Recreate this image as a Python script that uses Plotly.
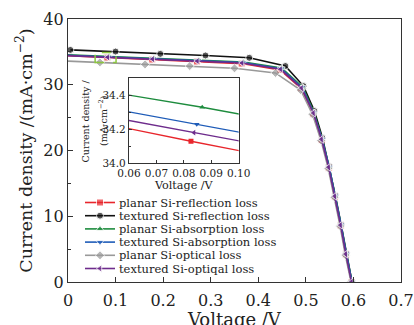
import plotly.graph_objects as go

# ---- data ----
names = ["planar Si-reflection loss", "textured Si-reflection loss",
         "planar Si-absorption loss", "textured Si-absorption loss",
         "planar Si-optical loss", "textured Si-optiqal loss"]
colors = ["#e8262c", "#111111", "#1e8c3e", "#1f5cb8", "#999999", "#6e2c8c"]
symbols = ["square", "circle", "triangle-up", "triangle-down", "diamond", "triangle-left"]

x_red = [0, 0.0826, 0.177, 0.271, 0.365, 0.446, 0.490, 0.515, 0.533, 0.548, 0.561, 0.573, 0.584, 0.596]
y_red = [34.40, 34.13, 33.83, 33.53, 33.22, 32.25, 29.45, 25.6, 21.6, 17.4, 13.0, 8.6, 4.2, 0.0]
x_black = [0.005, 0.100, 0.194, 0.289, 0.381, 0.457, 0.495, 0.518, 0.535, 0.549, 0.562, 0.574, 0.585, 0.597]
y_black = [35.30, 35.05, 34.70, 34.45, 34.10, 32.85, 29.80, 26.0, 21.9, 17.6, 13.15, 8.75, 4.35, 0.0]
x_green = [0, 0.0867, 0.181, 0.275, 0.369, 0.449, 0.493, 0.517, 0.534, 0.549, 0.562, 0.574, 0.585, 0.597]
y_green = [34.56, 34.33, 34.05, 33.76, 33.47, 32.55, 29.65, 25.8, 21.8, 17.5, 13.1, 8.7, 4.3, 0.0]
x_blue = [0, 0.0847, 0.179, 0.273, 0.367, 0.448, 0.492, 0.516, 0.534, 0.549, 0.562, 0.574, 0.585, 0.597]
y_blue = [34.48, 34.23, 33.95, 33.66, 33.36, 32.45, 29.60, 25.75, 21.75, 17.5, 13.1, 8.7, 4.3, 0.0]
x_gray = [0, 0.067, 0.162, 0.256, 0.350, 0.436, 0.489, 0.514, 0.532, 0.547, 0.560, 0.572, 0.583, 0.595]
y_gray = [33.60, 33.40, 33.10, 32.85, 32.50, 31.80, 29.20, 25.5, 21.5, 17.3, 12.9, 8.5, 4.1, 0.0]
x_purple = [0, 0.0837, 0.178, 0.272, 0.366, 0.447, 0.491, 0.516, 0.533, 0.548, 0.561, 0.573, 0.584, 0.596]
y_purple = [34.43, 34.18, 33.90, 33.60, 33.30, 32.35, 29.50, 25.7, 21.7, 17.45, 13.05, 8.65, 4.25, 0.0]

xs = [x_red, x_black, x_green, x_blue, x_gray, x_purple]
ys = [y_red, y_black, y_green, y_blue, y_gray, y_purple]

x_ticks = [0, 0.1, 0.2, 0.3, 0.4, 0.5, 0.6, 0.7]
x_ticklabels = ["0", "0.1", "0.2", "0.3", "0.4", "0.5", "0.6", "0.7"]
y_ticks = [0, 10, 20, 30, 40]
inset_x_ticks = [0.06, 0.07, 0.08, 0.09, 0.10]
inset_x_labels = ["0.06", "0.07", "0.08", "0.09", "0.10"]
inset_y_ticks = [34.0, 34.2, 34.4]
inset_y_labels = ["34.0", "34.2", "34.4"]

FONT = "DejaVu Serif"
W, H = 414, 325
L, R, T, B = 68, 13, 19, 43
PW, PH = W - L - R, H - T - B

def px(xp):
    return (xp - L) / PW

def py(yp):
    return (H - B - yp) / PH

fig = go.Figure()

for i in range(6):
    msize = [0 if (xv == 0) else 7 for xv in xs[i]]
    fig.add_trace(go.Scatter(x=xs[i], y=ys[i], mode="lines+markers", name=names[i],
                             line=dict(color=colors[i], width=1.6),
                             marker=dict(symbol=symbols[i], size=msize, color=colors[i]),
                             showlegend=False, xaxis="x", yaxis="y"))
# inset
for i in [0, 2, 3, 5]:
    fig.add_trace(go.Scatter(x=xs[i], y=ys[i], mode="lines+markers",
                             line=dict(color=colors[i], width=1.4),
                             marker=dict(symbol=symbols[i], size=5, color=colors[i]),
                             showlegend=False, xaxis="x2", yaxis="y2"))

# manual legend (pixel coordinates axis)
row0, dy = 202.5, 13.2
for i in range(6):
    yy = row0 + dy * i
    fig.add_trace(go.Scatter(x=[85, 100, 115], y=[yy, yy, yy], mode="lines+markers",
                             line=dict(color=colors[i], width=1.6),
                             marker=dict(symbol=symbols[i], size=[0, 7, 0], color=colors[i]),
                             showlegend=False, xaxis="x3", yaxis="y3", hoverinfo="skip"))
    fig.add_annotation(x=116.5, y=yy, xref="x3", yref="y3", text=names[i], showarrow=False,
                       xanchor="left", yanchor="middle",
                       font=dict(family=FONT, size=11.5, color="#222"))

# inset y title
fig.add_annotation(x=px(77), y=py(121), xref="paper", yref="paper", text="Current density /",
                   textangle=-90, showarrow=False, font=dict(family=FONT, size=9.5, color="#222"))
fig.add_annotation(x=px(95), y=py(121), xref="paper", yref="paper",
                   text="(mA·cm<sup>−2</sup>)",
                   textangle=-90, showarrow=False, font=dict(family=FONT, size=9.5, color="#222"))

# main x title
fig.add_annotation(x=px(234.5), y=py(319), xref="paper", yref="paper", text="Voltage /V",
                   showarrow=False, xanchor="center", yanchor="middle",
                   font=dict(family=FONT, size=18, color="#222"))

fig.add_shape(type="rect", x0=0.057, x1=0.101, y0=33.4, y1=34.9, xref="x", yref="y",
              line=dict(color="#8cc63f", width=1.5, dash="dash"))

axis_common = dict(showline=True, mirror=True, linecolor="#333", linewidth=1.2,
                   ticks="inside", tickcolor="#333", showgrid=False, zeroline=False,
                   automargin=False)

fig.update_layout(
    width=W, height=H, margin=dict(l=L, r=R, t=T, b=B, autoexpand=False),
    paper_bgcolor="white", plot_bgcolor="white",
    font=dict(family=FONT, color="#222"),
    xaxis=dict(axis_common, range=[0, 0.7], tickvals=x_ticks, ticktext=x_ticklabels,
               ticklen=5, tickfont=dict(size=16), domain=[0, 1], ticklabelstandoff=4),
    yaxis=dict(axis_common, range=[0, 40], tickvals=y_ticks, ticklen=5,
               tickfont=dict(size=16), domain=[0, 1],
               minor=dict(dtick=5, tick0=0, ticks="inside", ticklen=3, tickcolor="#333"),
               title=dict(text="Current density /(mA·cm<sup>−2</sup>)", font=dict(size=17.5), standoff=6)),
    xaxis2=dict(axis_common, range=[0.06, 0.10], tickvals=inset_x_ticks, ticktext=inset_x_labels,
                ticklen=3, tickfont=dict(size=10.5), domain=[px(129), px(238.7)], anchor="y2",
                title=dict(text="Voltage /V", font=dict(size=11.2), standoff=2)),
    yaxis2=dict(axis_common, range=[34.0, 34.5], tickvals=inset_y_ticks, ticktext=inset_y_labels,
                ticklen=3, tickfont=dict(size=10.5), domain=[py(163.3), py(78.3)], anchor="x2",
                minor=dict(dtick=0.1, tick0=34.0, ticks="inside", ticklen=2, tickcolor="#333")),
    xaxis3=dict(range=[L, W - R], domain=[0, 1], visible=False, anchor="y3", overlaying="x"),
    yaxis3=dict(range=[H - B, T], domain=[0, 1], visible=False, anchor="x3", overlaying="y"),
)

fig.write_html("out.html")
